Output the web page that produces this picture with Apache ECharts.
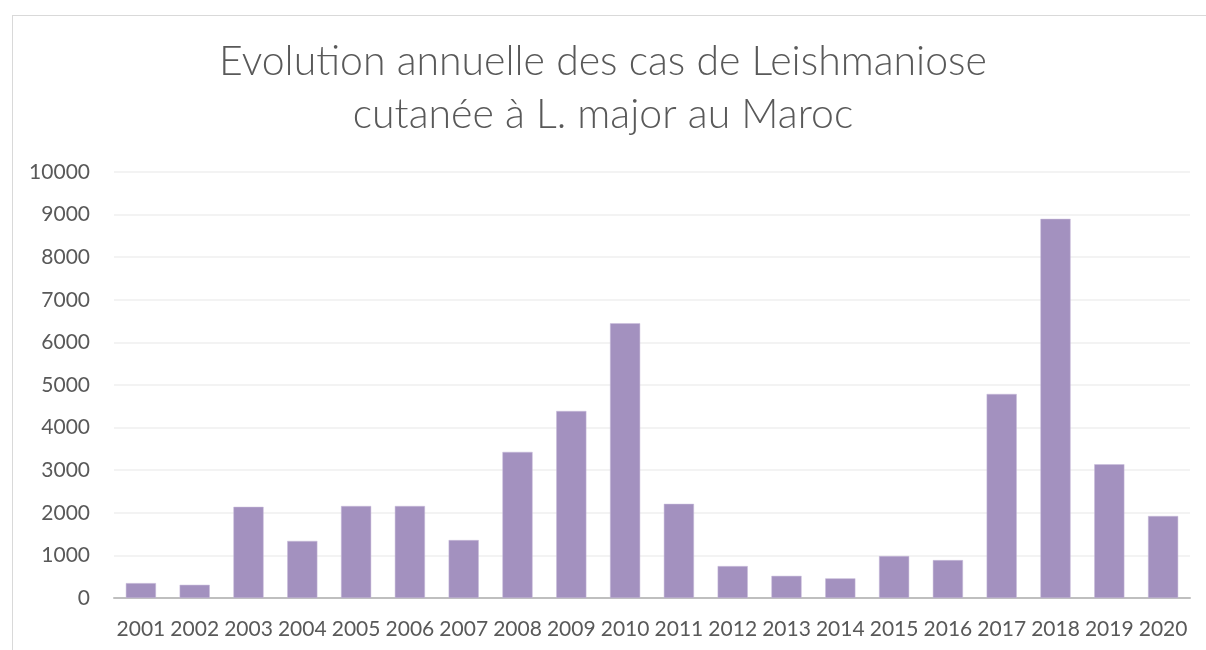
<!DOCTYPE html>
<html>
<head>
<meta charset="utf-8">
<script src="https://cdn.jsdelivr.net/npm/echarts@6/dist/echarts.min.js"></script>
<style>
  html, body { margin: 0; padding: 0; background: #fff; }
  #chart { width: 1206px; height: 650px; }
  #frame {
    position: absolute; left: 12px; top: 15px; width: 1200px; height: 650px;
    border: 1px solid #d9d9d9; pointer-events: none;
  }
</style>
</head>
<body>
<div id="chart"></div>
<div id="frame"></div>
<script>
// données
const years = ['2001', '2002', '2003', '2004', '2005', '2006', '2007', '2008', '2009', '2010',
  '2011', '2012', '2013', '2014', '2015', '2016', '2017', '2018', '2019', '2020'];
const cases = [350, 310, 2140, 1340, 2160, 2160, 1360, 3430, 4390, 6450,
  2210, 750, 520, 460, 985, 890, 4790, 8900, 3140, 1925];
const yTicks = { min: 0, max: 10000, interval: 1000 };

const chart = echarts.init(document.getElementById('chart'));
chart.setOption({
  backgroundColor: '#fff',
  title: {
    text: 'Evolution annuelle des cas de Leishmaniose\ncutanée à L. major au Maroc',
    left: 'center',
    top: 30,
    textStyle: {
      fontFamily: 'Lato',
      fontWeight: 300,
      fontSize: 41,
      lineHeight: 53,
      color: '#595959'
    }
  },
  grid: { left: 114, right: 16, top: 172, bottom: 52 },
  xAxis: {
    type: 'category',
    data: years,
    axisLine: { lineStyle: { color: '#bfbfbf', width: 2 } },
    axisTick: { show: false },
    axisLabel: { interval: 0, color: '#595959', fontFamily: 'Lato', fontSize: 21, margin: 21 }
  },
  yAxis: {
    type: 'value',
    min: yTicks.min,
    max: yTicks.max,
    interval: yTicks.interval,
    axisLine: { show: false },
    axisTick: { show: false },
    axisLabel: {
      color: '#595959', fontFamily: 'Lato', fontSize: 21, margin: 24,
      formatter: v => String(v)
    },
    splitLine: { lineStyle: { color: '#efefef', width: 1.5 } }
  },
  series: [{
    type: 'bar',
    data: cases,
    barWidth: '56%',
    itemStyle: { color: '#a391bf', borderColor: '#c9bddb', borderWidth: 0.5 }
  }]
});
</script>
</body>
</html>
